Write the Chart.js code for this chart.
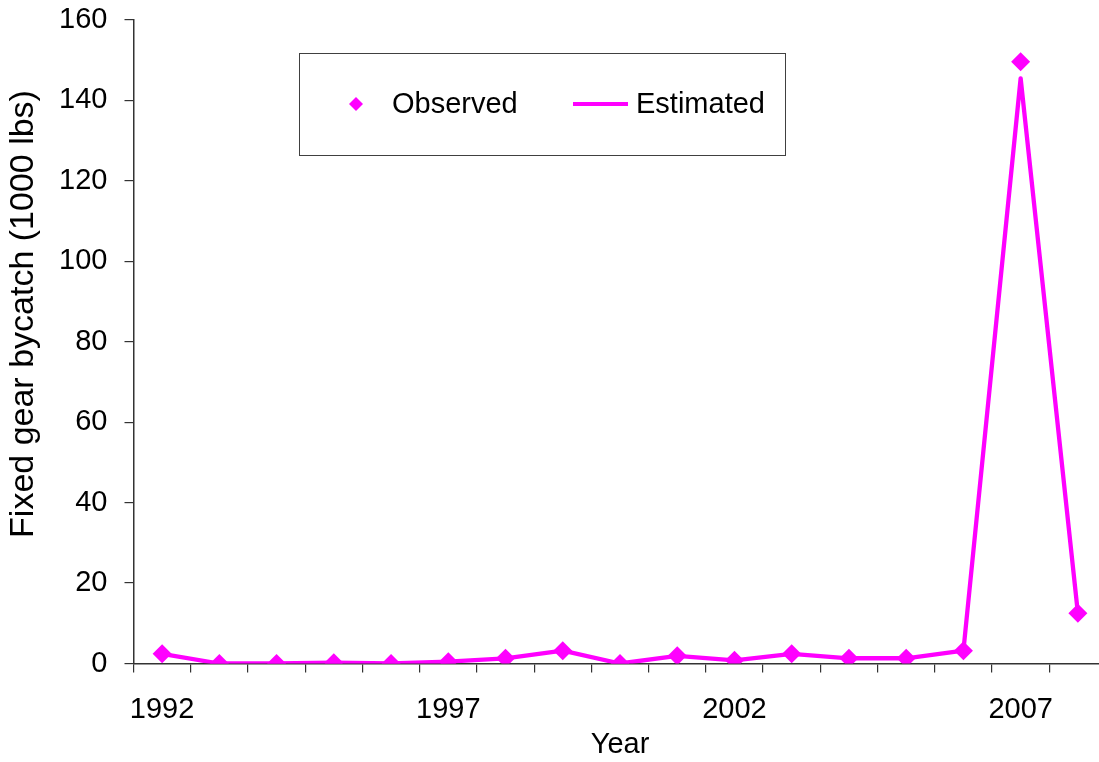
<!DOCTYPE html>
<html><head><meta charset="utf-8">
<script src="https://cdn.jsdelivr.net/npm/chart.js@4/dist/chart.umd.min.js"></script>
<style>
html,body{margin:0;padding:0;background:#fff;overflow:hidden;width:1099px;height:762px}
canvas{position:absolute;left:0;top:0}
</style></head>
<body><canvas id="c" width="1116" height="762" style="width:1116px;height:762px"></canvas>
<script>
const years = [1992,1993,1994,1995,1996,1997,1998,1999,2000,2001,2002,2003,2004,2005,2006,2007,2008];
const observed  = [2.4,0,0,0.2,0,0.45,1.3,3.2,0,1.9,0.8,2.4,1.3,1.3,3.2,149.6,12.5];
const estimated = [2.4,0,0,0.2,0,0.45,1.3,3.2,0,1.9,0.8,2.4,1.3,1.3,3.2,145.5,12.5];
const labeledYears = [1992,1997,2002,2007];
const yTicks = [0,20,40,60,80,100,120,140,160];
const yTitle = 'Fixed gear bycatch (1000 lbs)';

const FONT = "'Liberation Sans', Arial, sans-serif";
const MAGENTA = '#FF00FF';
const AXIS = '#333333';

const boxLegend = {
  id: 'boxLegend',
  afterDraw(chart) {
    const ctx = chart.ctx;
    ctx.save();
    // y-axis title
    ctx.fillStyle = '#000';
    ctx.font = "34px " + FONT;
    ctx.textAlign = 'center';
    ctx.textBaseline = 'middle';
    ctx.translate(24, 314);
    ctx.rotate(-Math.PI / 2);
    ctx.fillText(yTitle, 0, 0);
    ctx.setTransform(1, 0, 0, 1, 0, 0);
    // legend box
    ctx.strokeStyle = '#404040';
    ctx.lineWidth = 1;
    ctx.strokeRect(299.5, 53.5, 486, 102);
    const cy = 104;
    const obs = chart.data.datasets[1];
    const est = chart.data.datasets[0];
    ctx.fillStyle = obs.backgroundColor;
    ctx.beginPath();
    ctx.moveTo(356, cy - 7); ctx.lineTo(363, cy); ctx.lineTo(356, cy + 7); ctx.lineTo(349, cy); ctx.closePath();
    ctx.fill();
    ctx.strokeStyle = est.borderColor;
    ctx.lineWidth = 4;
    ctx.beginPath(); ctx.moveTo(573, cy); ctx.lineTo(628, cy); ctx.stroke();
    ctx.fillStyle = '#000';
    ctx.font = "29px " + FONT;
    ctx.textBaseline = 'middle';
    ctx.textAlign = 'left';
    ctx.fillText(obs.label, 392, cy + 1);
    ctx.fillText(est.label, 636, cy + 1);
    ctx.restore();
  }
};

new Chart(document.getElementById('c'), {
  type: 'line',
  data: {
    labels: years,
    datasets: [
      {label: 'Estimated', data: estimated, borderColor: MAGENTA, backgroundColor: MAGENTA,
       borderWidth: 4.3, pointRadius: 0, borderJoinStyle: 'round', borderCapStyle: 'round', tension: 0, order: 2},
      {label: 'Observed', data: observed, showLine: false, pointStyle: 'rectRot', pointRadius: 9.5,
       pointBorderWidth: 0, borderColor: MAGENTA, backgroundColor: MAGENTA, order: 1}
    ]
  },
  options: {
    responsive: false, maintainAspectRatio: false, animation: false, devicePixelRatio: 1,
    layout: {padding: {top: 20, right: 0, left: 0, bottom: 0}},
    plugins: {legend: {display: false}, tooltip: {enabled: false}},
    scales: {
      x: {
        type: 'category', offset: true,
        grid: {offset: true, drawOnChartArea: false, tickLength: 9, color: AXIS, lineWidth: 1.2},
        border: {color: AXIS, width: 1.5},
        ticks: {autoSkip: false, maxRotation: 0, color: '#000', padding: 20,
          font: {family: FONT, size: 29},
          callback: function(v, i) { const y = years[i]; return labeledYears.includes(y) ? String(y) : ''; }},
        title: {display: true, text: 'Year', color: '#000', font: {family: FONT, size: 29}, padding: {top: 0, bottom: 0}},
        afterFit(s) { s.height = 98.5; }
      },
      y: {
        min: yTicks[0], max: yTicks[yTicks.length - 1],
        grid: {drawOnChartArea: false, tickLength: 9, color: AXIS, lineWidth: 1.2},
        border: {color: AXIS, width: 1.5},
        ticks: {stepSize: yTicks[1] - yTicks[0], color: '#000', padding: 17, font: {family: FONT, size: 29, lineHeight: 0.1}},
        title: {display: false, text: yTitle},
        afterFit(s) { s.width = 133.5; }
      }
    }
  },
  plugins: [boxLegend]
});
</script>
</body></html>
